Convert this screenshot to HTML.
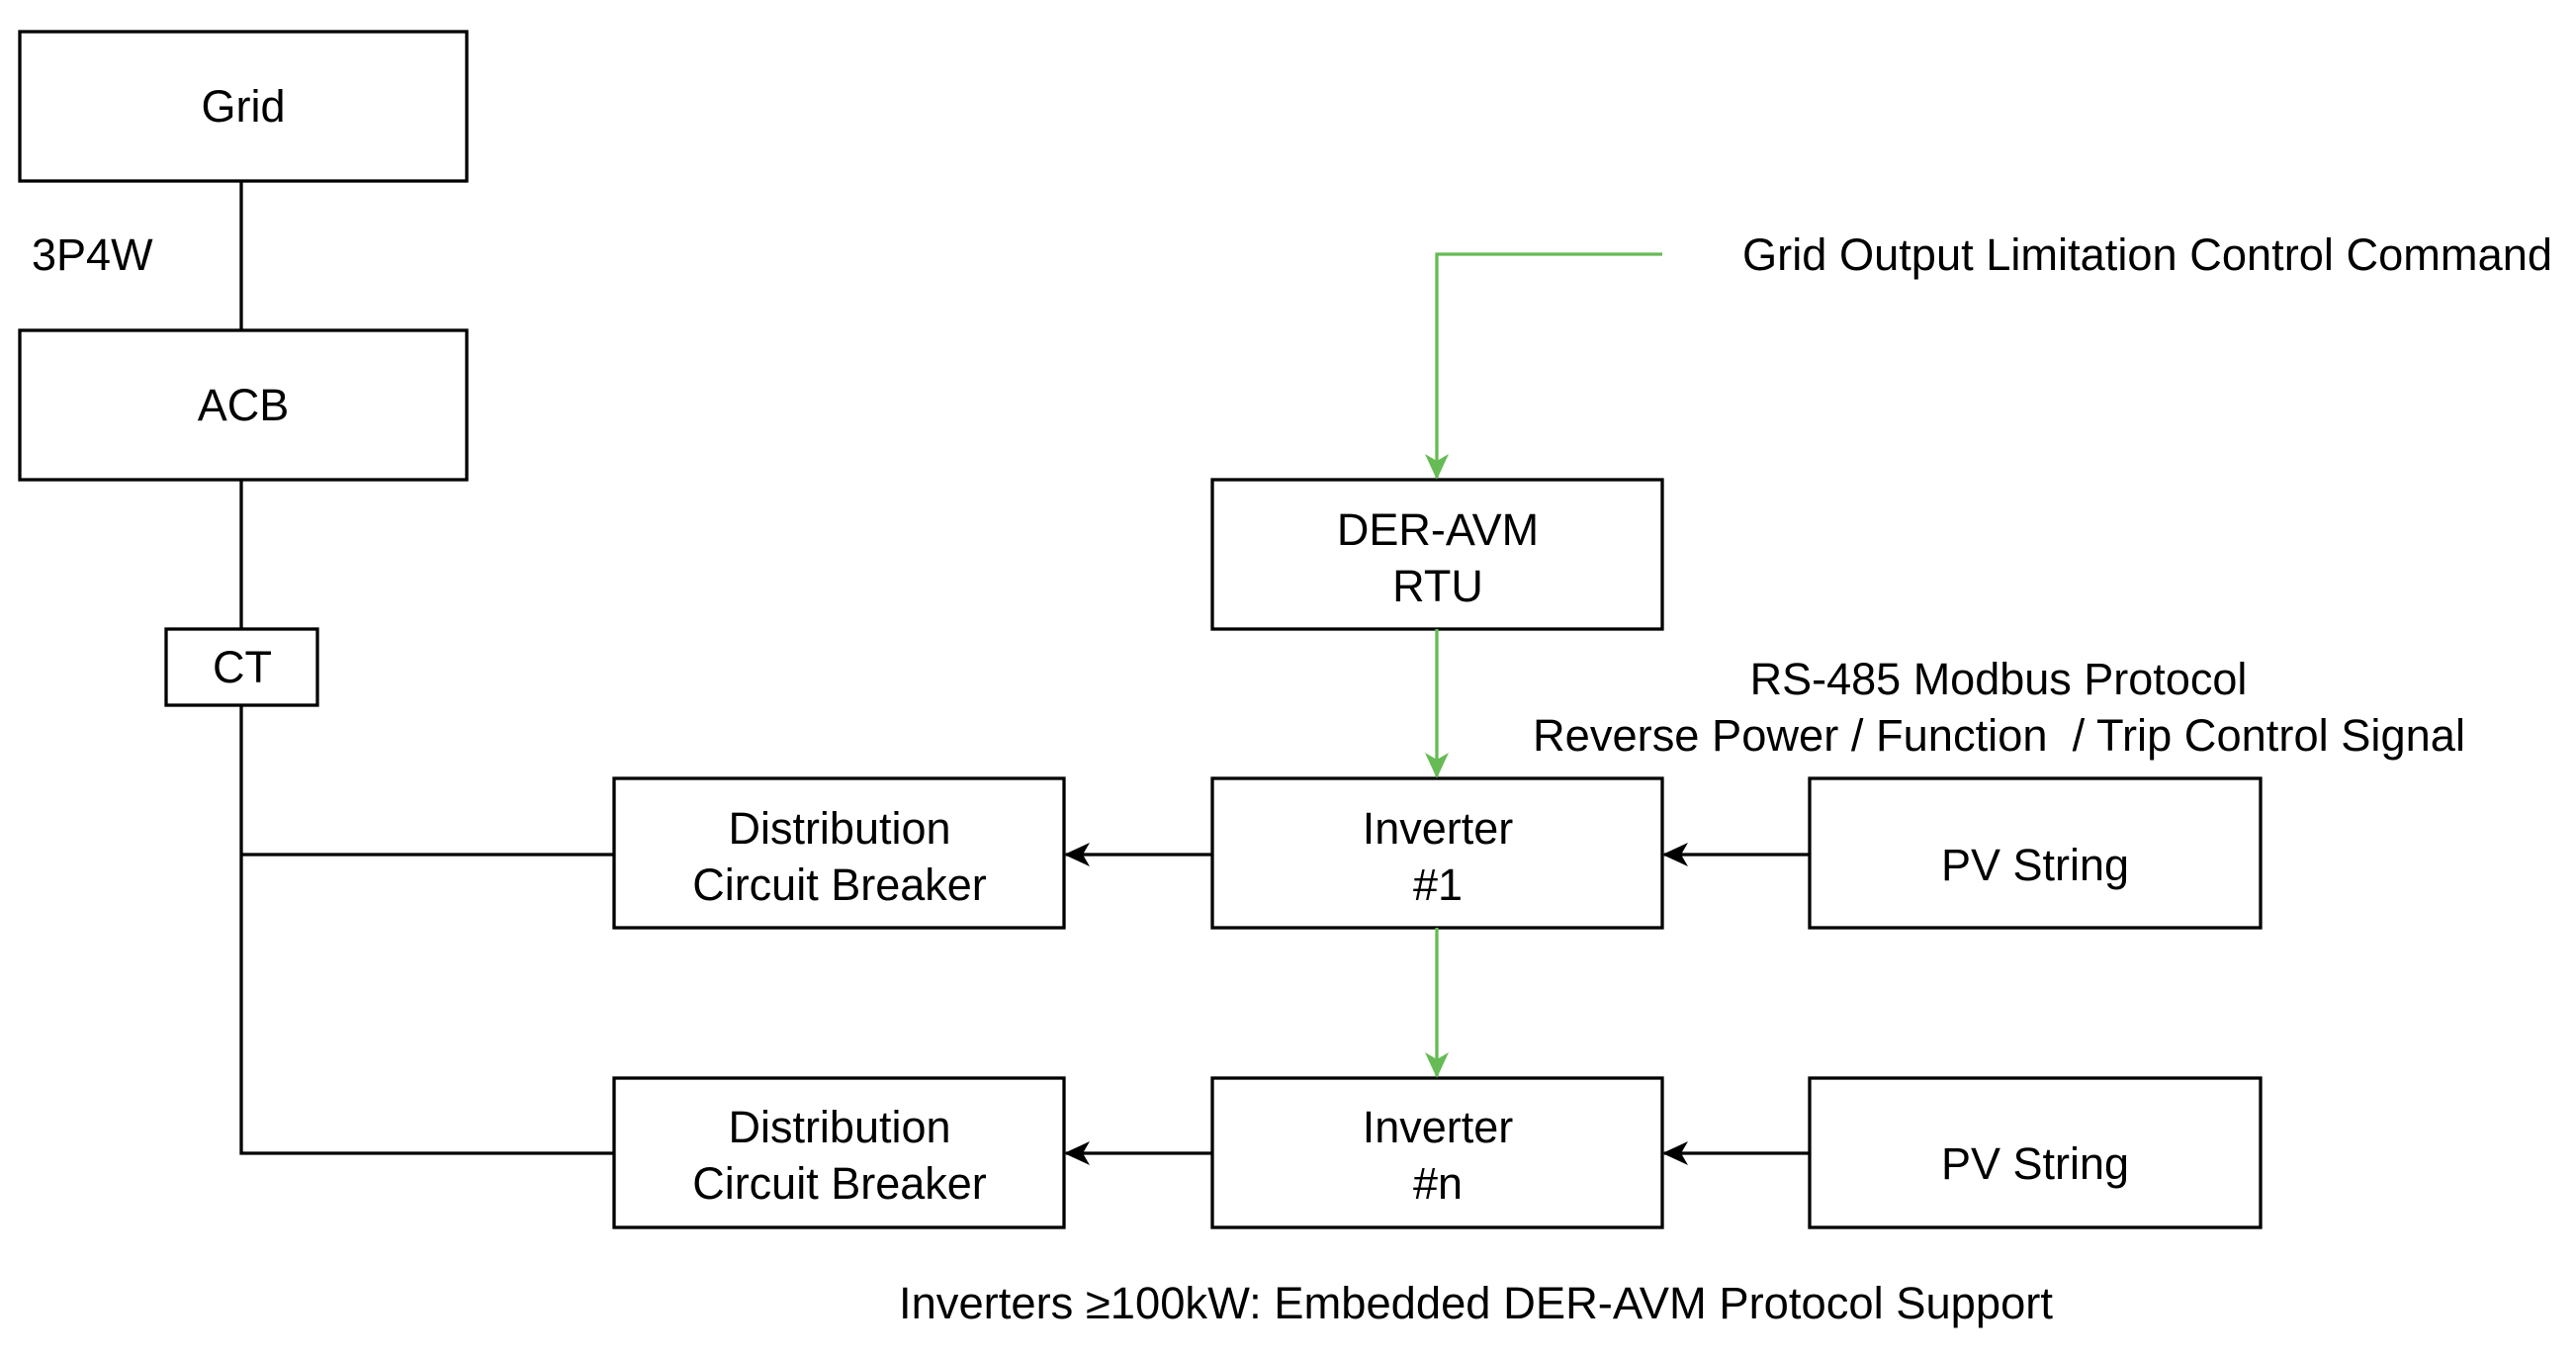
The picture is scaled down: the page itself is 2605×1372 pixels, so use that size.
<!DOCTYPE html>
<html><head><meta charset="utf-8"><style>html,body{margin:0;padding:0;background:#fff}</style></head>
<body>
<svg width="2605" height="1367" viewBox="0 0 2605 1367" xmlns="http://www.w3.org/2000/svg" font-family="Liberation Sans, Arial, sans-serif" font-size="45" fill="#000">
<defs>
<marker id="ab" markerWidth="26" markerHeight="24" refX="24" refY="12" orient="auto" markerUnits="userSpaceOnUse" viewBox="0 0 26 24"><path d="M0,0 L26,12 L0,24 L7,12 Z" fill="#000"/></marker>
<marker id="ag" markerWidth="26" markerHeight="24" refX="24" refY="12" orient="auto" markerUnits="userSpaceOnUse" viewBox="0 0 26 24"><path d="M0,0 L26,12 L0,24 L7,12 Z" fill="#66bb55"/></marker>
</defs>
<g stroke="#000" stroke-width="3.3" fill="none">
<rect x="20" y="32" width="452" height="151"/>
<rect x="20" y="334" width="452" height="151"/>
<rect x="168" y="636" width="153" height="77"/>
<rect x="621" y="787" width="455" height="151"/>
<rect x="621" y="1090" width="455" height="151"/>
<rect x="1226" y="485" width="455" height="151"/>
<rect x="1226" y="787" width="455" height="151"/>
<rect x="1226" y="1090" width="455" height="151"/>
<rect x="1830" y="787" width="456" height="151"/>
<rect x="1830" y="1090" width="456" height="151"/>
<path d="M244 183 V334 M244 485 V636 M244 713 V1166 H621 M244 864 H621"/>
<path d="M1226 864 H1078" marker-end="url(#ab)"/>
<path d="M1226 1166 H1078" marker-end="url(#ab)"/>
<path d="M1830 864 H1683" marker-end="url(#ab)"/>
<path d="M1830 1166 H1683" marker-end="url(#ab)"/>
</g>
<g stroke="#66bb55" stroke-width="3.3" fill="none">
<path d="M1681 257 H1453 V483" marker-end="url(#ag)"/>
<path d="M1453 636 V785" marker-end="url(#ag)"/>
<path d="M1453 938 V1088" marker-end="url(#ag)"/>
</g>
<g text-anchor="middle">
<text x="246" y="123">Grid</text>
<text x="246" y="425">ACB</text>
<text x="245" y="690">CT</text>
<text x="849" y="853">Distribution</text>
<text x="849" y="910">Circuit Breaker</text>
<text x="849" y="1155">Distribution</text>
<text x="849" y="1212">Circuit Breaker</text>
<text x="1454" y="551">DER-AVM</text>
<text x="1454" y="608">RTU</text>
<text x="1454" y="853">Inverter</text>
<text x="1454" y="910">#1</text>
<text x="1454" y="1155">Inverter</text>
<text x="1454" y="1212">#n</text>
<text x="2058" y="890">PV String</text>
<text x="2058" y="1192">PV String</text>
<text x="2021" y="702">RS-485 Modbus Protocol</text>
</g>
<text x="32" y="273">3P4W</text>
<text x="1762" y="273" textLength="819" lengthAdjust="spacingAndGlyphs">Grid Output Limitation Control Command</text>
<text x="1550" y="759" textLength="943" lengthAdjust="spacingAndGlyphs" xml:space="preserve">Reverse Power / Function  / Trip Control Signal</text>
<text x="909" y="1333" textLength="1167" lengthAdjust="spacingAndGlyphs">Inverters ≥100kW: Embedded DER-AVM Protocol Support</text>
</svg>
</body></html>
